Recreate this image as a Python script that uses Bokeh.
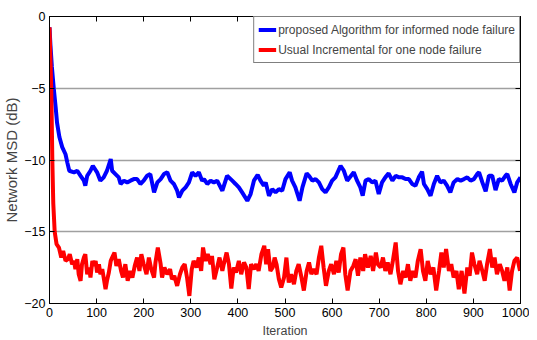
from bokeh.plotting import figure
from bokeh.models import Range1d, LinearAxis, FixedTicker, Legend, LegendItem
from bokeh.embed import file_html
from bokeh.resources import INLINE

# ---- data ----
blue_iter = [0, 2, 5, 9, 13, 16, 21, 27, 34, 38, 42, 52, 59, 66, 73, 76, 80, 87, 92, 101,
             108, 115, 122, 130, 133, 140, 147, 151, 158, 165, 172, 179, 186, 193, 200, 207,
             214, 222, 229, 236, 243, 250, 257, 264, 271, 275, 282, 289, 296, 303, 310, 317,
             324, 328, 335, 342, 349, 356, 367, 377, 388, 395, 402, 409, 420, 427, 434, 442,
             448, 455, 459, 466, 473, 480, 487, 494, 501, 510, 515, 522, 531, 537, 546, 551,
             558, 565, 572, 579, 586, 593, 600, 607, 618, 625, 632, 646, 653, 660, 665, 671,
             678, 685, 692, 699, 706, 713, 720, 728, 735, 742, 749, 756, 763, 770, 777, 784,
             791, 795, 802, 809, 816, 823, 830, 837, 844, 851, 858, 866, 873, 880, 887, 894,
             901, 908, 912, 919, 926, 933, 940, 947, 954, 961, 968, 972, 979, 987, 993, 1000]
blue_db = [-0.75, -2.0, -3.5, -5.0, -6.3, -7.4, -8.4, -9.1, -9.6, -10.2, -10.75, -10.86, -10.75,
           -11.1, -11.44, -11.79, -11.1, -10.75, -10.4, -10.86, -11.44, -11.21, -10.75, -9.93,
           -10.75, -10.98, -11.21, -11.67, -11.44, -11.56, -11.44, -11.33, -11.33, -11.67,
           -11.44, -11.1, -10.98, -12.26, -11.56, -11.33, -10.98, -10.86, -11.44, -11.67,
           -12.14, -12.61, -12.14, -11.9, -11.56, -10.86, -11.1, -10.86, -11.44, -11.33,
           -11.67, -11.44, -11.56, -11.44, -12.14, -11.1, -11.44, -11.67, -11.91, -12.26,
           -12.84, -12.37, -11.44, -11.03, -11.44, -11.79, -11.56, -12.49, -12.03, -12.26,
           -12.03, -12.14, -11.33, -10.86, -11.44, -11.91, -12.84, -11.91, -10.93, -11.1,
           -11.44, -11.33, -11.56, -12.03, -12.26, -11.91, -11.44, -11.21, -10.4, -10.75,
           -11.44, -10.86, -11.44, -11.91, -12.49, -11.44, -11.33, -11.56, -11.44, -12.37,
           -11.56, -11.21, -10.93, -11.44, -11.1, -11.21, -11.21, -11.33, -11.33, -11.67,
           -11.79, -11.21, -10.81, -11.67, -12.03, -12.49, -11.67, -11.1, -11.56, -11.44,
           -11.79, -12.26, -11.56, -11.33, -11.44, -11.33, -11.21, -11.44, -11.33, -10.98,
           -10.86, -11.56, -12.19, -11.1, -11.1, -12.1, -11.33, -11.44, -11.1, -10.98,
           -11.67, -12.26, -11.56, -11.21]

red_iter = [0, 2, 4, 6, 8, 11, 15, 20, 25, 29, 34, 39, 43, 48, 52, 55, 59, 62, 66, 69, 73, 76,
            80, 84, 87, 91, 94, 98, 101, 105, 108, 112, 115, 119, 122, 126, 130, 133, 138,
            142, 147, 152, 156, 161, 166, 171, 176, 181, 186, 191, 195, 200, 206, 211, 216,
            222, 225, 230, 236, 239, 244, 250, 256, 260, 265, 271, 277, 282, 287, 292, 297,
            302, 306, 312, 317, 322, 326, 331, 336, 342, 345, 350, 356, 361, 367, 370, 376,
            381, 386, 391, 396, 402, 407, 413, 418, 423, 428, 434, 439, 444, 450, 456, 460,
            464, 469, 474, 478, 482, 487, 492, 498, 503, 508, 513, 519, 524, 529, 535, 540,
            546, 551, 556, 561, 567, 572, 577, 582, 587, 593, 598, 604, 609, 614, 619, 624,
            628, 633, 639, 645, 650, 655, 660, 666, 670, 676, 682, 687, 693, 697, 703, 708,
            713, 718, 724, 729, 735, 740, 745, 751, 756, 761, 766, 771, 777, 782, 788, 793,
            798, 803, 809, 815, 821, 827, 832, 837, 842, 848, 853, 858, 864, 869, 875, 881,
            887, 892, 897, 902, 908, 913, 919, 924, 929, 935, 940, 945, 950, 956, 961, 966,
            972, 977, 982, 987, 993, 999]
red_db = [-0.75, -3.0, -5.5, -10.0, -13.0, -15.0, -15.86, -16.1, -16.8, -16.33, -17.03, -16.91,
          -16.56, -17.26, -17.03, -17.61, -16.91, -17.96, -18.42, -17.26, -16.8, -16.56,
          -17.96, -17.49, -18.19, -17.03, -17.38, -17.03, -17.84, -17.26, -17.96, -17.61,
          -18.19, -19.0, -18.42, -17.84, -17.03, -16.8, -16.45, -17.38, -16.91, -17.73,
          -18.19, -17.26, -18.42, -17.73, -18.19, -17.38, -16.8, -17.73, -16.56, -17.26,
          -17.96, -16.8, -17.61, -18.19, -17.14, -16.1, -17.26, -18.19, -17.49, -17.96,
          -17.61, -18.31, -18.07, -18.77, -17.96, -17.49, -17.26, -18.19, -19.47, -17.61,
          -17.03, -17.49, -16.8, -17.73, -16.1, -17.03, -16.56, -17.26, -16.68, -18.31,
          -17.49, -16.8, -17.73, -17.26, -16.45, -17.26, -18.95, -17.49, -17.84, -17.03,
          -17.96, -17.14, -17.49, -19.0, -17.26, -17.61, -17.26, -17.73, -16.56, -15.98,
          -17.26, -16.21, -17.73, -17.49, -16.8, -17.26, -18.31, -18.89, -18.19, -16.8,
          -18.54, -17.96, -18.66, -17.73, -17.26, -18.19, -19.1, -17.73, -17.14, -17.96,
          -17.61, -17.96, -16.8, -15.98, -17.49, -18.77, -17.73, -17.26, -17.96, -17.03,
          -17.84, -16.56, -16.1, -17.96, -19.1, -17.73, -17.38, -16.91, -18.07, -16.8,
          -17.73, -16.56, -17.49, -16.68, -17.73, -16.45, -17.26, -17.49, -16.8, -17.73,
          -17.14, -17.96, -17.03, -15.75, -17.73, -18.66, -17.73, -18.19, -17.26, -18.42,
          -17.73, -18.19, -17.03, -16.21, -17.73, -18.42, -17.03, -17.96, -17.49, -19.1,
          -17.73, -16.45, -17.49, -16.21, -17.73, -17.26, -18.19, -17.73, -19.0, -17.73,
          -19.3, -17.49, -18.07, -16.45, -17.26, -17.96, -17.03, -17.73, -18.42, -17.26,
          -16.21, -17.49, -16.8, -17.96, -17.26, -17.73, -18.42, -17.49, -19.1, -17.73,
          -17.03, -16.8, -17.73]

x_ticks = [0, 100, 200, 300, 400, 500, 600, 700, 800, 900, 1000]
y_ticks = [-20, -15, -10, -5, 0]
blue_label = "proposed Algorithm for informed node failure"
red_label = "Usual Incremental for one node failure"
x_title = "Iteration"
y_title = "Network MSD (dB)"

FONT = "Liberation Sans"

p = figure(frame_width=471, frame_height=287, output_backend="svg", toolbar_location=None,
           x_range=Range1d(0, 1000), y_range=Range1d(-20, 0),
           min_border_left=41, min_border_right=9, min_border_top=16, min_border_bottom=30)
p.background_fill_color = "white"
p.border_fill_color = "white"
p.outline_line_color = "black"
p.outline_line_width = 1

p.xgrid.grid_line_color = None
p.ygrid.ticker = FixedTicker(ticks=y_ticks)
p.ygrid.grid_line_color = "#a0a0a0"
p.ygrid.grid_line_width = 1.5

def style_axis(ax, ticks, show_labels=True):
    ax.ticker = FixedTicker(ticks=ticks)
    ax.axis_line_color = "black"
    ax.axis_line_width = 1
    ax.major_tick_in = 5
    ax.major_tick_out = 0
    ax.major_tick_line_color = "black"
    ax.minor_tick_line_color = None
    ax.major_label_text_font = FONT
    ax.major_label_text_font_size = "12.5px"
    ax.major_label_text_color = "black"
    if not show_labels:
        ax.major_label_text_color = None
        ax.major_label_text_font_size = "1px"
        ax.major_label_standoff = 0

style_axis(p.xaxis[0], x_ticks)
p.xaxis[0].major_label_standoff = 4
p.xaxis[0].axis_label = x_title
p.xaxis[0].axis_label_text_font = FONT
p.xaxis[0].axis_label_text_font_size = "12.5px"
p.xaxis[0].axis_label_text_font_style = "normal"
p.xaxis[0].axis_label_standoff = 4

style_axis(p.yaxis[0], y_ticks)
p.yaxis[0].major_label_standoff = 4
p.yaxis[0].axis_label = y_title
p.yaxis[0].axis_label_text_font = FONT
p.yaxis[0].axis_label_text_font_size = "15px"
p.yaxis[0].axis_label_text_font_style = "normal"
p.yaxis[0].axis_label_standoff = 1

top_ax = LinearAxis()
style_axis(top_ax, x_ticks, show_labels=False)
p.add_layout(top_ax, "above")
right_ax = LinearAxis()
style_axis(right_ax, y_ticks, show_labels=False)
p.add_layout(right_ax, "right")

rb = p.line(blue_iter, blue_db, line_color="#0000ff", line_width=4)
rr = p.line(red_iter, red_db, line_color="#ff0000", line_width=4)

legend = Legend(items=[LegendItem(label=blue_label, renderers=[rb]),
                       LegendItem(label=red_label, renderers=[rr])],
                location="top_right", margin=0, padding=4, spacing=3,
                label_height=17, glyph_height=17, glyph_width=18, label_standoff=2,
                label_text_font=FONT, label_text_font_size="12px",
                border_line_color="black", border_line_width=1,
                background_fill_color="white", background_fill_alpha=1)
p.add_layout(legend, "center")

open("out.html", "w").write(file_html(p, INLINE))
